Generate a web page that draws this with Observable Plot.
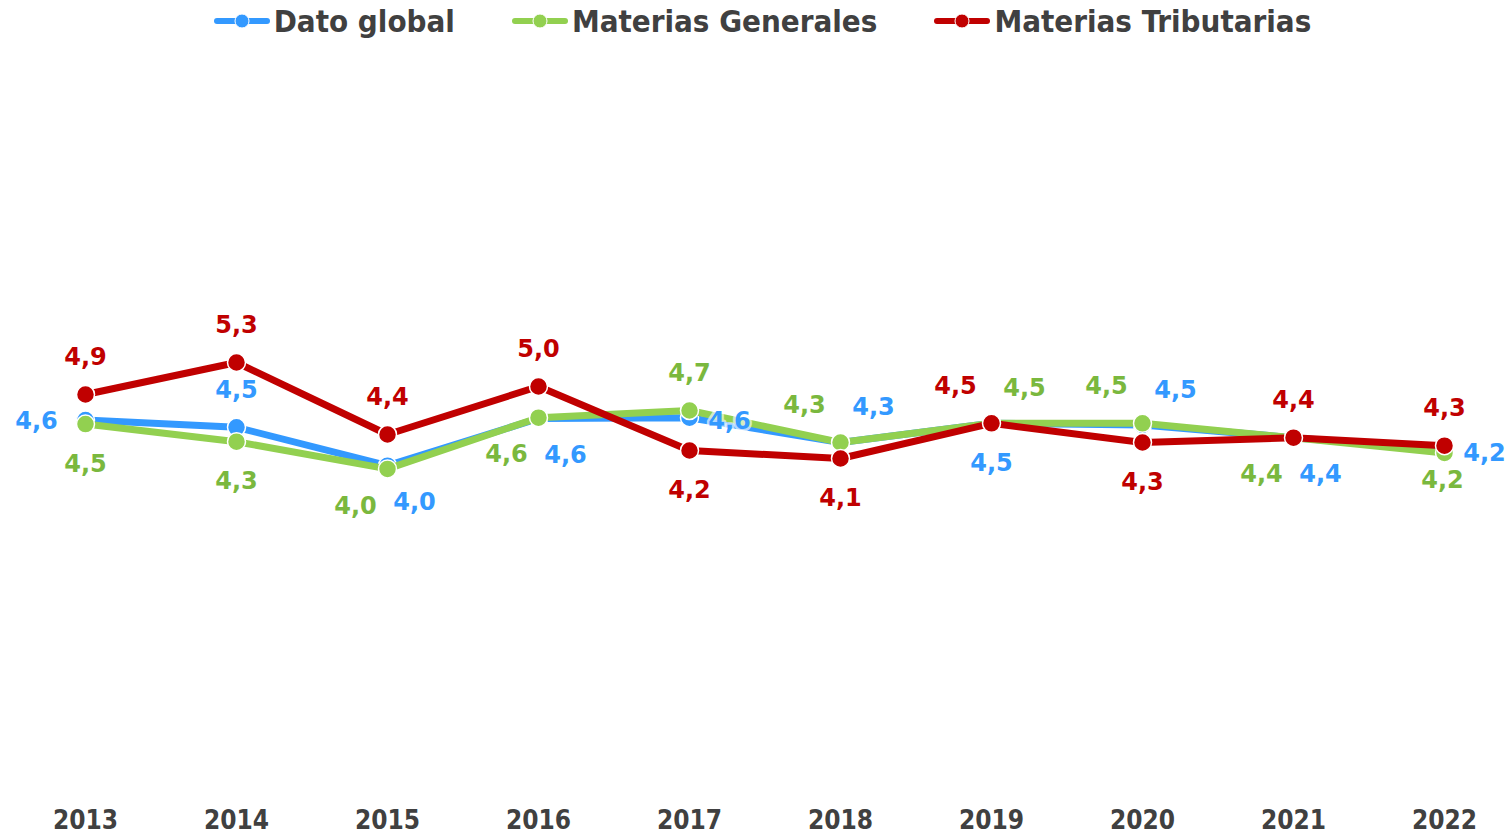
<!DOCTYPE html>
<html>
<head>
<meta charset="utf-8">
<script src="https://cdn.jsdelivr.net/npm/d3@7"></script>
<script src="https://cdn.jsdelivr.net/npm/@observablehq/plot@0.6"></script>
<style>
  html, body { margin: 0; padding: 0; background: #ffffff; }
  #legend {
    height: 42px; display: flex; justify-content: center; align-items: center;
    gap: 57px; padding-left: 14px; box-sizing: border-box;
    font-family: "DejaVu Sans Condensed", "DejaVu Sans", sans-serif; font-stretch: condensed;
    font-weight: bold; font-size: 31px; color: #404040;
  }
  .item { display: flex; align-items: center; gap: 4px; white-space: nowrap; }
  #chart svg { display: block; }
</style>
</head>
<body>
<div id="legend"></div>
<div id="chart"></div>
<script>
const years = ["2013","2014","2015","2016","2017","2018","2019","2020","2021","2022"];
const seriesNames = ["Dato global", "Materias Generales", "Materias Tributarias"];
const datoGlobal          = [4.58, 4.49, 4.01, 4.60, 4.61, 4.30, 4.54, 4.52, 4.36, 4.21];
const materiasGenerales   = [4.53, 4.31, 3.97, 4.61, 4.70, 4.30, 4.54, 4.54, 4.36, 4.17];
const materiasTributarias = [4.90, 5.30, 4.40, 5.00, 4.20, 4.10, 4.54, 4.30, 4.36, 4.26];

// label placement codes (compass direction from the point)
const placeGlobal      = ["w","n","se","se","e","ne","s","ne","se","e"];
const placeGenerales   = ["s","s","sw","sw","n","nw","ne","nw","sw","sc"];
const placeTributarias = ["n","n","n","n","s","s","nw","s","n","n"];

const lineColors  = {"Dato global": "#3399FF", "Materias Generales": "#92D050", "Materias Tributarias": "#C00000"};
const labelColors = {"Dato global": "#3399FF", "Materias Generales": "#7AB83E", "Materias Tributarias": "#C00000"};
const offsets = {
  n: [0, -37], s: [0, 40], sc: [-2, 27], w: [-49, 1], e: [40, 4],
  ne: [33, -35], nw: [-36, -37], se: [27, 37], sw: [-32, 37]
};

const valuesBy = [datoGlobal, materiasGenerales, materiasTributarias];
const placesBy = [placeGlobal, placeGenerales, placeTributarias];
const rows = seriesNames.flatMap((s, i) =>
  years.map((y, j) => ({year: y, series: s, value: valuesBy[i][j], pos: placesBy[i][j]})));

const fmt = v => v.toFixed(1).replace(".", ",");
const labelFont = "DejaVu Sans, sans-serif";

const marks = [];
seriesNames.forEach(s => {
  const d = rows.filter(r => r.series === s);
  marks.push(Plot.line(d, {x: "year", y: "value", stroke: lineColors[s], strokeWidth: 7, strokeLinejoin: "round", strokeLinecap: "round"}));
  marks.push(Plot.dot(d, {x: "year", y: "value", r: 9, fill: lineColors[s], stroke: "white", strokeWidth: 1.5}));
});
seriesNames.forEach(s => {
  Object.keys(offsets).forEach(code => {
    const d = rows.filter(r => r.series === s && r.pos === code);
    if (!d.length) return;
    marks.push(Plot.text(d, {
      x: "year", y: "value", text: r => fmt(r.value),
      dx: offsets[code][0], dy: offsets[code][1],
      fill: labelColors[s], stroke: "white", strokeOpacity: 0.65, strokeWidth: 5,
      fontSize: 24, fontWeight: "bold", fontFamily: labelFont
    }));
  });
});
marks.push(Plot.axisX({tickSize: 0, tickPadding: 24, fontSize: 26, fontWeight: "bold",
  fontFamily: "DejaVu Sans Condensed, DejaVu Sans, sans-serif", fill: "#404040"}));

const chart = Plot.plot({
  width: 1511, height: 794,
  marginLeft: 84, marginRight: 67, marginTop: 24, marginBottom: 50,
  x: {type: "point", domain: years, padding: 0, label: null},
  y: {domain: [0, 9], axis: null},
  style: {background: "white", overflow: "visible"},
  marks
});
document.getElementById("chart").appendChild(chart);

// legend
const legend = document.getElementById("legend");
seriesNames.forEach(s => {
  const item = document.createElement("div");
  item.className = "item";
  item.innerHTML = `<svg width="56" height="16"><line x1="3" y1="8" x2="53" y2="8" stroke="${lineColors[s]}" stroke-width="6" stroke-linecap="round"/><circle cx="28" cy="8" r="7" fill="${lineColors[s]}" stroke="white" stroke-width="1"/></svg><span>${s}</span>`;
  legend.appendChild(item);
});
</script>
</body>
</html>
